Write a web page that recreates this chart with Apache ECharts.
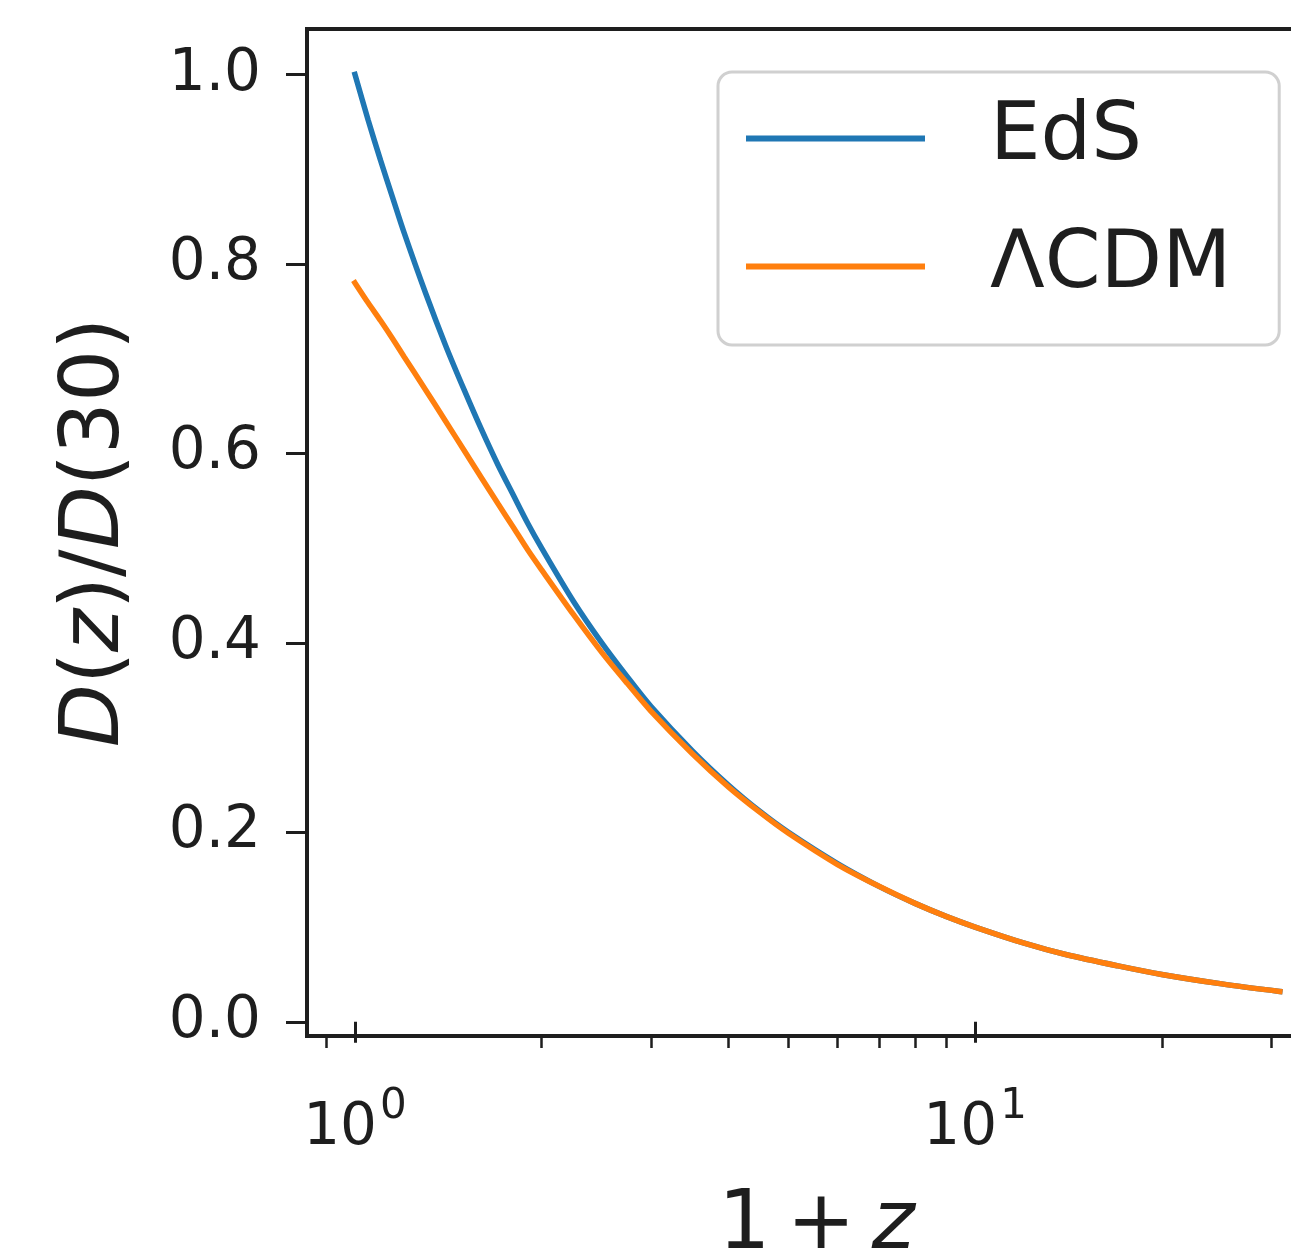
<!DOCTYPE html>
<html>
<head>
<meta charset="utf-8">
<script src="https://cdn.jsdelivr.net/npm/echarts@6/dist/echarts.min.js"></script>
<style>
  html, body { margin: 0; padding: 0; background: #ffffff; }
  #chart { width: 1291px; height: 1253px; }
</style>
</head>
<body>
<div id="chart"></div>
<script>
// Linear growth factor normalised to its value at z = 30, versus 1 + z
const onePlusZ = [1, 1.05, 1.1, 1.15, 1.2, 1.3, 1.4, 1.5, 1.6, 1.7, 1.8, 1.9, 2.0, 2.25, 2.5, 2.75,
                  3, 3.5, 4, 4.5, 5, 6, 7, 8, 9, 10, 12, 14, 17, 20, 25, 31];
const edsGrowth = [1.000, 0.952, 0.909, 0.870, 0.833, 0.769, 0.714, 0.667, 0.625, 0.588, 0.556, 0.526,
                   0.500, 0.444, 0.400, 0.364, 0.333, 0.286, 0.250, 0.222, 0.200, 0.167, 0.143, 0.125,
                   0.111, 0.100, 0.083, 0.071, 0.059, 0.050, 0.040, 0.032];
const lcdmGrowth = [0.780, 0.759, 0.740, 0.721, 0.702, 0.667, 0.634, 0.603, 0.574, 0.547, 0.522, 0.498,
                    0.477, 0.430, 0.390, 0.357, 0.328, 0.283, 0.248, 0.221, 0.199, 0.166, 0.143, 0.125,
                    0.111, 0.100, 0.083, 0.071, 0.059, 0.050, 0.040, 0.032];
const seriesNames = ['EdS', '\u039BCDM'];
const seriesColors = ['#1f77b4', '#ff7f0e'];
const yTicks = [0, 0.2, 0.4, 0.6, 0.8, 1.0];
const xMajorTicks = [1, 10];
const xMinorTicks = [0.9, 2, 3, 4, 5, 6, 7, 8, 9, 20, 30];

const FONT = 'DejaVu Sans';
const INK = '#1e1e1e';

const chart = echarts.init(document.getElementById('chart'), null, { renderer: 'canvas' });

const xRange = { min: 0.8368, max: 36.8 };

const option = {
  backgroundColor: '#ffffff',
  animation: false,
  grid: {
    left: 307, top: 29, right: -35, bottom: 217,
    show: true, borderColor: INK, borderWidth: 4,
    backgroundColor: 'transparent',
    containLabel: false,
    outerBoundsMode: 'none'
  },
  legend: {
    orient: 'vertical',
    left: 718, top: 72,
    padding: [17, 48, 29, 28],
    itemGap: 29,
    itemWidth: 179,
    itemHeight: 6,
    icon: 'rect',
    backgroundColor: 'rgba(255,255,255,0.8)',
    borderColor: '#d0d0d0',
    borderWidth: 3,
    borderRadius: 14,
    textStyle: {
      fontFamily: FONT, fontSize: 80, color: INK,
      lineHeight: 90, padding: [9, 0, 0, 60]
    },
    data: seriesNames
  },
  xAxis: [
    {
      type: 'log', logBase: 10, min: xRange.min, max: xRange.max,
      position: 'bottom',
      axisLine: { show: false },
      splitLine: { show: false },
      axisTick: { show: true, inside: false, length: 21, customValues: xMajorTicks,
                  lineStyle: { color: INK, width: 3 } },
      axisLabel: {
        show: true, margin: 50, customValues: xMajorTicks,
        formatter: function (v) {
          return '{b|10}{s|' + Math.round(Math.log10(v)) + '}';
        },
        rich: {
          b: { fontFamily: FONT, fontSize: 58, color: INK, lineHeight: 72, verticalAlign: 'bottom' },
          s: { fontFamily: FONT, fontSize: 42, color: INK, lineHeight: 40, verticalAlign: 'top',
               padding: [0, 0, 0, 3] }
        }
      },
      name: '1\u2009+\u2009{i|z}',
      nameLocation: 'middle',
      nameGap: 150,
      nameMoveOverlap: false,
      nameTextStyle: {
        fontFamily: FONT, fontSize: 82, color: INK,
        rich: { i: { fontFamily: FONT, fontSize: 82, fontStyle: 'italic', color: INK } }
      }
    },
    {
      type: 'log', logBase: 10, min: xRange.min, max: xRange.max,
      position: 'bottom', offset: 0,
      axisLine: { show: false },
      splitLine: { show: false },
      axisLabel: { show: false },
      axisTick: { show: true, inside: false, length: 12, customValues: xMinorTicks,
                  lineStyle: { color: INK, width: 2.5 } }
    }
  ],
  yAxis: {
    type: 'value', min: -0.015, max: 1.048,
    axisLine: { show: false },
    splitLine: { show: false },
    axisTick: { show: true, inside: false, length: 21, customValues: yTicks,
                lineStyle: { color: INK, width: 3 } },
    axisLabel: {
      show: true, margin: 46, customValues: yTicks,
      fontFamily: FONT, fontSize: 58, color: INK,
      formatter: function (v) { return v.toFixed(1); }
    },
    name: '{i|D}({i|z})/{i|D}(30)',
    nameLocation: 'middle',
    nameGap: 169,
    nameMoveOverlap: false,
    nameTextStyle: {
      fontFamily: FONT, fontSize: 82, color: INK,
      rich: { i: { fontFamily: FONT, fontSize: 82, fontStyle: 'italic', color: INK } }
    }
  },
  series: [
    {
      name: seriesNames[0], type: 'line', xAxisIndex: 0,
      data: onePlusZ.map((x, i) => [x, edsGrowth[i]]),
      showSymbol: false, symbol: 'none', smooth: 0.3,
      color: seriesColors[0],
      lineStyle: { width: 5.5, color: seriesColors[0], cap: 'square' }
    },
    {
      name: seriesNames[1], type: 'line', xAxisIndex: 0,
      data: onePlusZ.map((x, i) => [x, lcdmGrowth[i]]),
      showSymbol: false, symbol: 'none', smooth: 0.3,
      color: seriesColors[1],
      lineStyle: { width: 5.5, color: seriesColors[1], cap: 'square' }
    }
  ]
};

chart.setOption(option);
</script>
</body>
</html>
